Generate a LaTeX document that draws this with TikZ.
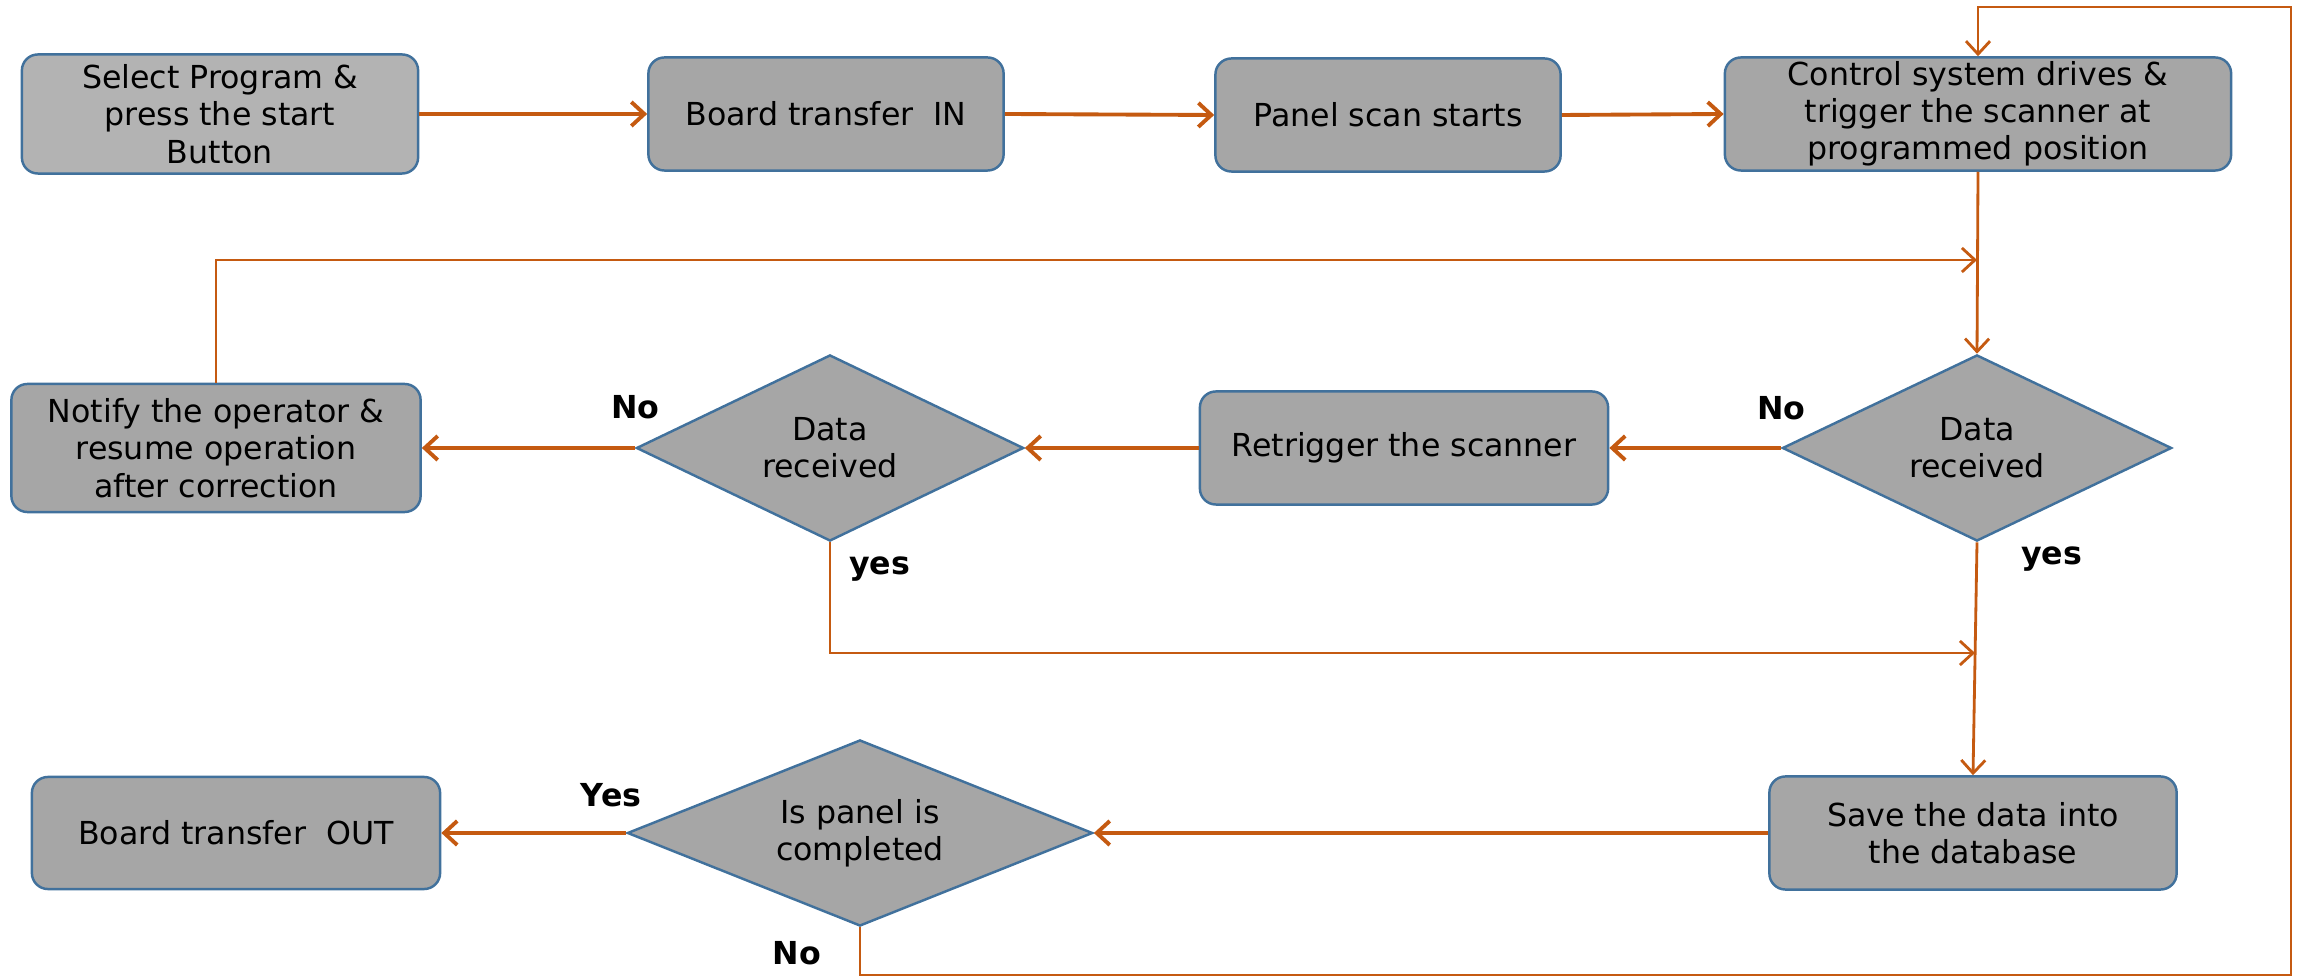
\documentclass[tikz,border=0pt]{standalone}
\usepackage{fontspec}
\setmainfont{DejaVu Sans}
\usetikzlibrary{shapes}
\usetikzlibrary{arrows.meta}
\usetikzlibrary{positioning}
\definecolor{boxgray}{HTML}{A6A6A6}
\definecolor{startgray}{HTML}{B3B3B3}
\definecolor{edgeblue}{HTML}{41719C}
\definecolor{floworange}{HTML}{C55A11}

\begin{document}
\begin{tikzpicture}[x=0.01cm,y=-0.01cm,
  box/.style={draw=edgeblue,line width=0.7pt,fill=boxgray,rounded corners=0.16cm,align=center,inner sep=1pt,font=\fontsize{9pt}{10.6pt}\selectfont},
  decision/.style={diamond,aspect=2.5,draw=edgeblue,line width=0.7pt,fill=boxgray,align=center,inner sep=0pt,font=\fontsize{9pt}{10.6pt}\selectfont},
  flow/.style={draw=floworange,line width=1.1pt,-{Straight Barb[length=1.3mm,width=2.4mm]}},
  thinflow/.style={flow,line width=0.8pt},
  lbl/.style={font=\bfseries\fontsize{9pt}{10.6pt}\selectfont,inner sep=1pt}]
  \useasboundingbox (0,0) rectangle (2300,980);
  \node[box,fill=startgray,minimum width=3.96cm,minimum height=1.19cm] (sel) at (220,114) {Select Program \&\\press the start\\Button};
  \node[box,minimum width=3.55cm,minimum height=1.13cm] (bin) at (826,114) {Board transfer\ \ IN};
  \node[box,minimum width=3.45cm,minimum height=1.13cm] (scan) at (1388,115) {Panel scan starts};
  \node[box,minimum width=5.06cm,minimum height=1.13cm] (ctrl) at (1978,114) {Control system drives \&\\trigger the scanner at\\programmed position};
  \node[decision,minimum width=3.89cm,minimum height=1.86cm] (chk1) at (1977,448) {Data\\received};
  \node[box,minimum width=4.08cm,minimum height=1.13cm] (retrig) at (1404,448) {Retrigger the scanner};
  \node[decision,minimum width=3.87cm,minimum height=1.86cm] (chk2) at (830,448) {Data\\received};
  \node[box,minimum width=4.09cm,minimum height=1.28cm] (notify) at (216,448) {Notify the operator \&\\resume operation\\after correction};
  \node[box,minimum width=4.07cm,minimum height=1.13cm] (save) at (1973,833) {Save the data into\\the database};
  \node[decision,minimum width=4.65cm,minimum height=1.86cm] (done) at (860,833) {Is panel is\\completed};
  \node[box,minimum width=4.08cm,minimum height=1.12cm] (bout) at (236,833) {Board transfer\ \ OUT};
  \coordinate (j1) at (1977,260);
  \coordinate (j2) at (1975,653);
  \coordinate (c1) at (2291,975);
  \coordinate (c2) at (2291,7);
  \draw[flow] (sel) -- (bin);
  \draw[flow] (bin.east) -- (scan.west);
  \draw[flow] (scan.east) -- (ctrl.west);
  \draw[thinflow] (ctrl.south) -- (chk1.north);
  \draw[flow] (chk1.west) -- (retrig.east);
  \draw[flow] (retrig.west) -- (chk2.east);
  \draw[flow] (chk2.west) -- (notify.east);
  \draw[thinflow] (notify.north) |- (j1);
  \draw[thinflow] (chk2.south) |- (j2);
  \draw[thinflow] (chk1.south) -- (save.north);
  \draw[flow] (save.west) -- (done.east);
  \draw[flow] (done.west) -- (bout.east);
  \draw[thinflow] (done.south) |- (c1) -- (c2) -| (ctrl.north);
  \node[lbl,above=0.24cm of chk1.west] (no1) {No};
  \node[lbl,above=0.25cm of chk2.west] (no2) {No};
  \node[lbl,below right=0.1cm and 0.15cm of chk2.south] (yes2) {yes};
  \node[lbl,below right=0cm and 0.4cm of chk1.south] (yes1) {yes};
  \node[lbl,above=0.22cm of done.west,xshift=-0.15cm] (yes3) {Yes};
  \node[lbl,below left=0.1cm and 0.35cm of done.south] (no3) {No};
\end{tikzpicture}
\end{document}
